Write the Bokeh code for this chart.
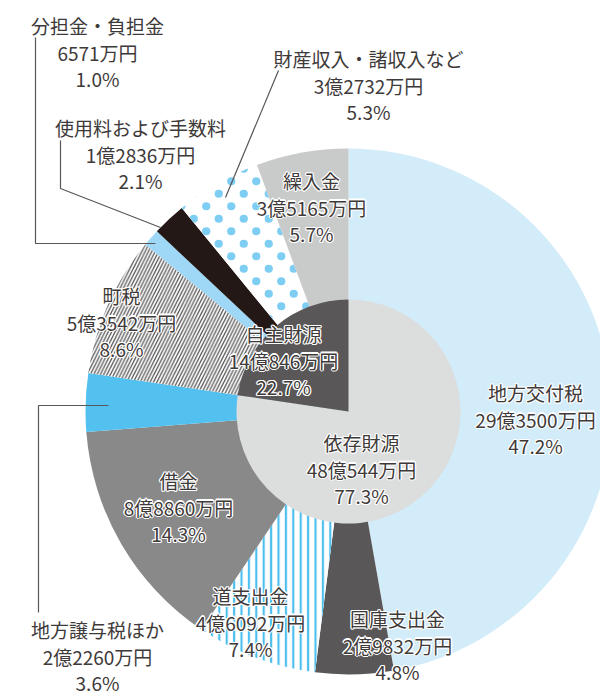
import math
from bokeh.plotting import figure
from bokeh.models import ColumnDataSource, Range1d, CanvasTexture
from bokeh.core.properties import value
from bokeh.embed import file_html
from bokeh.resources import INLINE

# ---------------- data ----------------
outer_names = ["地方交付税", "国庫支出金", "道支出金", "借金", "地方譲与税ほか",
               "町税", "分担金・負担金", "使用料および手数料", "財産収入・諸収入など", "繰入金"]
outer_amount_text = ["29億3500万円", "2億9832万円", "4億6092万円", "8億8860万円", "2億2260万円",
                     "5億3542万円", "6571万円", "1億2836万円", "3億2732万円", "3億5165万円"]
outer_values = [293500, 29832, 46092, 88860, 22260, 53542, 6571, 12836, 32732, 35165]  # 万円
outer_pct = ["47.2%", "4.8%", "7.4%", "14.3%", "3.6%", "8.6%", "1.0%", "2.1%", "5.3%", "5.7%"]

inner_names = ["依存財源", "自主財源"]
inner_amount_text = ["48億544万円", "14億846万円"]
inner_values = [480544, 140846]
inner_pct = ["77.3%", "22.7%"]

# ---------------- styles ----------------
outer_fill = ["#d3ecfa", "#595757", "#ffffff", "#898989", "#52c1f0",
              "#ffffff", "#9fd8f6", "#231815", "#ffffff", "#c9caca"]
outer_hatch = [" ", " ", "|", " ", " ", "/", " ", " ", "bigdots", " "]
outer_hatch_color = ["#000000", "#000000", "#4dbfee", "#000000", "#000000",
                     "#595757", "#000000", "#000000", "#7ecef4", "#000000"]
outer_hatch_scale = [12, 12, 7.4, 12, 12, 6.7, 12, 12, 25, 12]
outer_hatch_weight = [1, 1, 2.2, 1, 1, 1.3, 1, 1, 1, 1]
inner_fill = ["#dcdddd", "#595757"]

W, H = 600, 698
CX, CY = 348, H - 411
R_OUT, R_IN = 263, 112
TEXT_COLOR = "#3e3a39"
LINE_COLOR = "#595757"
FONT = "Noto Sans CJK JP"
FONT_SIZE = "19px"
LINE_GAP = 26.5

# label first-line positions (pixel coords, y from top)
outer_label_pos = [(535, 392), (397, 618), (250, 595), (178, 480), (97, 629),
                   (121, 295), (97, 25), (140, 127), (368, 58), (311, 180)]
inner_label_pos = [(361, 442), (283, 333)]

leaders = [
    [(35, 37), (35, 243), (155, 243)],
    [(60, 140), (60, 188), (160, 227)],
    [(278, 70), (225, 197)],
    [(108, 405), (38, 405), (38, 612)],
]


def wedge_angles(vals):
    tot = float(sum(vals))
    starts, ends = [], []
    c = 0.0
    for v in vals:
        a0 = c / tot
        c += v
        a1 = c / tot
        # clockwise from 12 o'clock -> bokeh anticlockwise angles
        starts.append(math.pi / 2 - 2 * math.pi * a1)
        ends.append(math.pi / 2 - 2 * math.pi * a0)
    return starts, ends


p = figure(width=W, height=H, output_backend="svg", toolbar_location=None,
           x_range=Range1d(0, W), y_range=Range1d(0, H),
           x_axis_location=None, y_axis_location=None,
           min_border=0, min_border_left=0, min_border_right=0,
           min_border_top=0, min_border_bottom=0)
p.grid.visible = False
p.outline_line_color = None
p.background_fill_color = "white"

# staggered dot texture (two dots per 25px tile)
bigdots = CanvasTexture(code="""
const c = ctx.canvas;
c.width = 25; c.height = 25;
ctx.setTransform(1, 0, 0, 1, 0, 0);
ctx.clearRect(0, 0, 25, 25);
ctx.fillStyle = "#7ecef4";
ctx.beginPath(); ctx.arc(6.25, 6.25, 4.1, 0, 2*Math.PI); ctx.closePath(); ctx.fill();
ctx.beginPath(); ctx.arc(18.75, 18.75, 4.1, 0, 2*Math.PI); ctx.closePath(); ctx.fill();
""")

s0, e0 = wedge_angles(outer_values)
src_out = ColumnDataSource(dict(start=s0, end=e0, fill=outer_fill, hp=outer_hatch,
                                hc=outer_hatch_color, hs=outer_hatch_scale, hw=outer_hatch_weight))
p.wedge(x=CX, y=CY, radius=R_OUT, start_angle="start", end_angle="end", source=src_out,
        fill_color="fill", line_color=None, hatch_pattern="hp", hatch_color="hc",
        hatch_scale="hs", hatch_weight="hw", hatch_extra={"bigdots": bigdots})

s1, e1 = wedge_angles(inner_values)
src_in = ColumnDataSource(dict(start=s1, end=e1, fill=inner_fill))
p.wedge(x=CX, y=CY, radius=R_IN, start_angle="start", end_angle="end", source=src_in,
        fill_color="fill", line_color=None)

# leader lines
for pts in leaders:
    p.line([q[0] for q in pts], [H - q[1] for q in pts], line_color=LINE_COLOR, line_width=1.2)

# labels
tx, ty, tt = [], [], []
for names, amts, pcts, pos in [(outer_names, outer_amount_text, outer_pct, outer_label_pos),
                               (inner_names, inner_amount_text, inner_pct, inner_label_pos)]:
    for n, a, pc, (x0, y0) in zip(names, amts, pcts, pos):
        for k, t in enumerate([n, a, pc]):
            tx.append(x0)
            ty.append(H - (y0 + k * LINE_GAP))
            tt.append(t)

src_t = ColumnDataSource(dict(x=tx, y=ty, text=tt))
common = dict(text_font=value(FONT), text_font_size=FONT_SIZE,
              text_align="center", text_baseline="middle", source=src_t)
# white halo
d = 1.2
for ox, oy in [(d, 0), (-d, 0), (0, d), (0, -d), (0.85, 0.85), (-0.85, 0.85), (0.85, -0.85), (-0.85, -0.85)]:
    p.text(x="x", y="y", text="text", text_color="white", x_offset=ox, y_offset=oy, **common)
p.text(x="x", y="y", text="text", text_color=TEXT_COLOR, **common)

open("out.html", "w").write(file_html(p, INLINE))
